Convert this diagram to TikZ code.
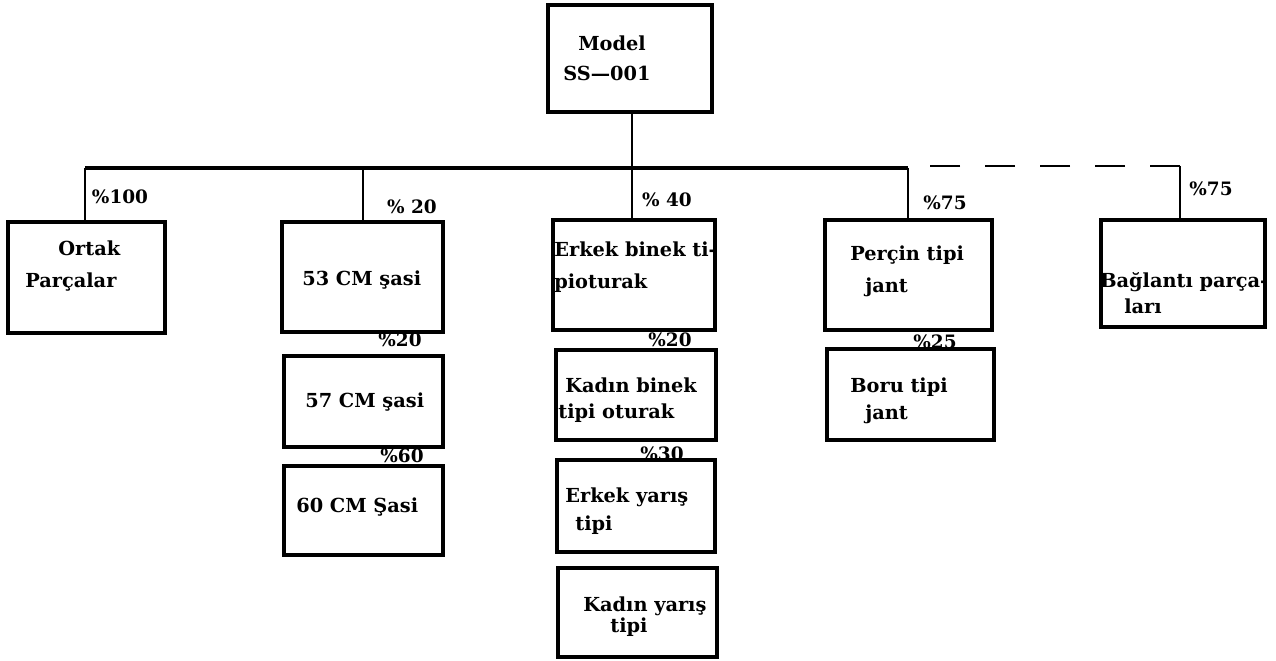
\documentclass[tikz,border=0pt]{standalone}
\usepackage{fontspec}
\setmainfont{DejaVu Serif}
\begin{document}
\begin{tikzpicture}[x=0.02cm, y=-0.02cm,
  font=\fontsize{11}{17}\selectfont\bfseries,
  kutu/.style={draw, line width=1.8pt, inner sep=0pt},
  yazi/.style={anchor=west, align=left, inner sep=0pt},
  oran/.style={inner sep=0pt, font=\fontsize{10.5}{12}\selectfont\bfseries},
  hat/.style={line width=1.5pt}]
\useasboundingbox (0,0) rectangle (1276,661);

% ── Üst kutu: model ───────────────────────────────────────────
\node[kutu, minimum width=3.28cm, minimum height=2.14cm] (model) at (630,58.5) {};
\node[yazi] (tmodel) at (563,58) {\hspace{0.3cm}Model\\SS—001};

% ── Ana hat ve bağlantı noktaları ─────────────────────────────
\coordinate (bA) at (85,168);
\coordinate (bB) at (363,168);
\coordinate (bC) at (632,168);
\coordinate (bD) at (908,168);
\coordinate (bE) at (1180,166);
\draw[line width=2pt] (bA) -- (bD);
\draw[hat] (model.south -| bC) -- (bC);

% ── Ortak parçalar ────────────────────────────────────────────
\node[kutu, minimum width=3.14cm, minimum height=2.22cm] (ortak) at (86.5,277.5) {};
\node[yazi] (tortak) at (25,266) {\hspace{0.66cm}Ortak\\[1pt]Parçalar};
\draw[hat] (bA) -- (bA |- ortak.north);
\node[oran] (p100) at (120,197) {\%100};

% ── Şasi ──────────────────────────────────────────────────────
\node[kutu, minimum width=3.22cm, minimum height=2.20cm] (s53) at (362.5,277) {};
\node[yazi] (t53) at (302,280) {53 CM şasi};
\draw[hat] (bB) -- (bB |- s53.north);
\node[oran] (p20a) at (412,207) {\% 20};
% alt seçenekler
\node[kutu, minimum width=3.18cm, minimum height=1.82cm] (s57) at (363.5,401.5) {};
\node[yazi] (t57) at (305,402) {57 CM şasi};
\node[oran] (p20b) at (400,340) {\%20};
\node[kutu, minimum width=3.18cm, minimum height=1.78cm] (s60) at (363.5,510.5) {};
\node[yazi] (t60) at (296,507) {60 CM Şasi};
\node[oran] (p60) at (402,456) {\%60};

% ── Oturak ────────────────────────────────────────────────────
\node[kutu, minimum width=3.24cm, minimum height=2.20cm] (erkekbinek) at (634,275) {};
\node[yazi] (terkekbinek) at (554,267) {Erkek binek ti-\\[1pt]pioturak};
\draw[hat] (bC) -- (bC |- erkekbinek.north);
\node[oran] (p40) at (667,200) {\% 40};
% alt seçenekler
\node[kutu, minimum width=3.20cm, minimum height=1.80cm] (kadinbinek) at (636,395) {};
\node[yazi] (tkadinbinek) at (558,400) {\hspace{0.14cm}Kadın binek\\[-2.3pt]tipi oturak};
\node[oran] (p20c) at (670,340) {\%20};
\node[kutu, minimum width=3.16cm, minimum height=1.84cm] (erkekyaris) at (636,506) {};
\node[yazi] (terkekyaris) at (565,511) {Erkek yarış\\[-1pt]\hspace{0.2cm}tipi};
\node[oran] (p30) at (662,454) {\%30};
\node[kutu, minimum width=3.18cm, minimum height=1.78cm] (kadinyaris) at (637.5,612.5) {};
\node[yazi] (tkadinyaris) at (583,617) {Kadın yarış\\[-5pt]\hspace{0.54cm}tipi};

% ── Jant ──────────────────────────────────────────────────────
\node[kutu, minimum width=3.34cm, minimum height=2.20cm] (percin) at (908.5,275) {};
\node[yazi] (tpercin) at (850,271) {Perçin tipi\\[1pt]\hspace{0.3cm}jant};
\draw[hat] (bD) -- (bD |- percin.north);
\node[oran] (p75a) at (945,203) {\%75};
\node[kutu, minimum width=3.34cm, minimum height=1.82cm] (boru) at (910.5,394.5) {};
\node[yazi] (tboru) at (850,401) {Boru tipi\\[-1.7pt]\hspace{0.3cm}jant};
\node[oran] (p25) at (935,342) {\%25};

% ── Bağlantı parçaları (kesikli hat) ─────────────────────────
\node[kutu, minimum width=3.28cm, minimum height=2.14cm] (baglanti) at (1183,273.5) {};
\node[yazi] (tbaglanti) at (1100,293) {Bağlantı parça-\\[-2pt]\hspace{0.48cm}ları};
\draw[hat, dash pattern=on 0.6cm off 0.5cm] (bE) -- (bD |- bE);
\draw[hat] (bE) -- (bE |- baglanti.north);
\node[oran] (p75b) at (1211,189) {\%75};

\end{tikzpicture}
\end{document}
